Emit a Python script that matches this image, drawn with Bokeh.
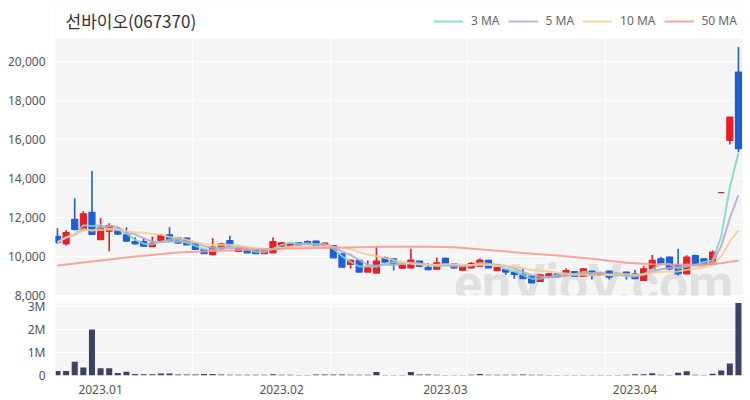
import pandas as pd
from bokeh.plotting import figure
from bokeh.models import (Range1d, FixedTicker, ColumnDataSource, Legend, LegendItem, Label)
from bokeh.embed import file_html
from bokeh.resources import INLINE

title_text = "선바이오(067370)"

# KRX trading days (weekdays minus market holidays)
holidays = ["2022-12-30", "2023-01-23", "2023-01-24", "2023-03-01"]
dates = [d.strftime("%Y-%m-%d") for d in pd.bdate_range("2022-12-23", "2023-04-19")
         if d.strftime("%Y-%m-%d") not in holidays]

open_ = [11030, 10650, 11900, 11390, 12270, 10860, 11300, 11370, 11110, 10770,
         10760, 10510, 10820, 11110, 10960, 10940, 10650, 10360, 10090, 10400,
         10820, 10260, 10310, 10310, 10140, 10190, 10530, 10530, 10700, 10770,
         10790, 10550, 10560, 10140, 9590, 9800, 9200, 9150, 9930, 9880,
         9400, 9420, 9770, 9450, 9350, 9900, 9620, 9300, 9420, 9500,
         9800, 9280, 9330, 9200, 9060, 8990, 8720, 8940, 9110, 9060,
         9230, 8990, 9250, 9030, 9250, 9140, 9200, 9110, 8770, 9370,
         9880, 9970, 9540, 9110, 10050, 9880, 9590, 13280, 15950, 19460]
high = [11450, 11350, 12990, 12320, 14380, 11970, 11710, 11500, 11500, 10990,
        10960, 11030, 11160, 11500, 11010, 10990, 10700, 10400, 10940, 10700,
        11060, 10450, 10350, 10330, 10330, 10980, 10750, 10680, 10720, 10820,
        10820, 10720, 10580, 10140, 9850, 9820, 9800, 10510, 10000, 9900,
        9600, 10400, 9780, 9650, 9950, 9950, 9650, 9560, 9700, 9900,
        9830, 9460, 9350, 9220, 9390, 9000, 9080, 9150, 9130, 9400,
        9250, 9400, 9270, 9160, 9270, 9160, 9220, 9320, 9520, 10080,
        9990, 10000, 10400, 10060, 10100, 9900, 10310, 13280, 17150, 20740]
low = [10650, 10570, 11330, 11300, 11100, 10860, 10270, 11100, 10770, 10620,
       10500, 10510, 10770, 10800, 10680, 10600, 10360, 10140, 10050, 10350,
       10530, 10230, 10190, 10140, 10120, 10190, 10500, 10500, 10520, 10650,
       10560, 10520, 9930, 9450, 9370, 9200, 9200, 9150, 9700, 9280,
       9380, 9400, 9450, 9300, 9330, 9540, 9370, 9280, 9400, 9480,
       9420, 9270, 9060, 8860, 8860, 8650, 8700, 8920, 8990, 9040,
       8990, 8980, 8820, 9000, 8820, 9000, 8820, 8860, 8760, 9350,
       9560, 9300, 9030, 9100, 9590, 9590, 9580, 13280, 15750, 15360]
close = [10720, 11230, 11390, 12190, 11130, 11500, 11590, 11150, 10790, 10650,
         10530, 10680, 11080, 10820, 10690, 10600, 10360, 10140, 10480, 10650,
         10530, 10400, 10190, 10140, 10310, 10770, 10700, 10650, 10600, 10650,
         10560, 10690, 9930, 9450, 9800, 9200, 9450, 9760, 9710, 9630,
         9560, 9820, 9500, 9320, 9680, 9580, 9420, 9520, 9650, 9820,
         9420, 9450, 9200, 9080, 8860, 8650, 9060, 9110, 8990, 9280,
         8990, 9370, 9030, 9140, 8940, 9030, 9030, 8860, 9370, 9800,
         9660, 9370, 9110, 9970, 9590, 9590, 10220, 13280, 17150, 15530]
volume = [200000, 200000, 600000, 350000, 2000000, 310000, 310000, 110000, 160000, 60000,
          50000, 50000, 90000, 90000, 40000, 40000, 40000, 60000, 70000, 40000,
          30000, 30000, 30000, 30000, 30000, 50000, 30000, 30000, 20000, 20000,
          40000, 40000, 40000, 40000, 30000, 30000, 30000, 150000, 20000, 20000,
          20000, 150000, 40000, 40000, 30000, 20000, 20000, 20000, 30000, 60000,
          30000, 30000, 30000, 30000, 40000, 30000, 30000, 20000, 20000, 20000,
          20000, 20000, 20000, 20000, 20000, 20000, 30000, 50000, 50000, 100000,
          30000, 20000, 120000, 180000, 30000, 20000, 80000, 220000, 520000, 3150000]

# 50-day MA (its history lies before the window)
ma50_dates = ["2022-12-23", "2023-01-02", "2023-01-06", "2023-01-13", "2023-01-20",
              "2023-02-02", "2023-02-10", "2023-02-20", "2023-02-27", "2023-03-03",
              "2023-03-10", "2023-03-15", "2023-03-21", "2023-03-27", "2023-03-31",
              "2023-04-05", "2023-04-12", "2023-04-17", "2023-04-19"]
ma50_values = [9540, 9800, 10000, 10200, 10300, 10400, 10450, 10500, 10500, 10470,
               10300, 10180, 10050, 9880, 9680, 9600, 9580, 9650, 9800]

price_ticks = [8000, 10000, 12000, 14000, 16000, 18000, 20000]
vol_ticks = [0, 1000000, 2000000, 3000000]
vol_tick_labels = ["0", "1M", "2M", "3M"]
month_labels = ["2023.01", "2023.02", "2023.03", "2023.04"]
month_dates = ["2023-01-02", "2023-02-02", "2023-03-02", "2023-04-03"]

ma_names = ["3 MA", "5 MA", "10 MA", "50 MA"]
ma_colors = ["#7fd4c9", "#b9a6cb", "#f3cb93", "#f4978d"]

RED = "#ec1c24"
BLUE = "#1c5fd8"
VOL = "#3f4068"
BG = "#f5f5f5"
FONT = "Noto Sans"

# ---- layout geometry (pixels inside the plotting frame, from its top) ----
FRAME_H = 375
PRICE_TOP_PX, PRICE_BOT_PX = 38, 295      # price panel
VOL_TOP_PX = 303                          # volume panel runs to FRAME_H
PRICE_LO, PRICE_HI = 8000, 21180
VOL_HI = 3130000

ppp = (PRICE_HI - PRICE_LO) / (PRICE_BOT_PX - PRICE_TOP_PX)     # price per pixel
y_start = PRICE_LO - (FRAME_H - PRICE_BOT_PX) * ppp
y_end = PRICE_HI + PRICE_TOP_PX * ppp
vpp = VOL_HI / (FRAME_H - VOL_TOP_PX)                           # volume per pixel
vol_end = FRAME_H * vpp


def vol_to_y(v):
    return y_start + (v / vol_end) * (y_end - y_start)


pos = {d: i for i, d in enumerate(dates)}
xs = list(range(len(dates)))
colors = [RED if c >= o else BLUE for o, c in zip(open_, close)]
src = ColumnDataSource(dict(
    x=xs, high=high, low=low,
    top=[max(o, c) for o, c in zip(open_, close)],
    bottom=[min(o, c) for o, c in zip(open_, close)],
    color=colors, vol=volume))

cs = pd.Series(close, dtype=float)
ma3 = cs.rolling(3, min_periods=1).mean().tolist()
ma5 = cs.rolling(5, min_periods=1).mean().tolist()
ma10 = cs.rolling(10, min_periods=1).mean().tolist()
ma50_x = [pos[d] for d in ma50_dates]

x0, x1 = -0.23, 79.47
vgrid = [x0 + k * (x1 - x0) / 5 for k in range(1, 5)]

p = figure(width=750, height=400, x_range=Range1d(x0, x1),
           y_range=Range1d(y_start, y_end), output_backend="svg", toolbar_location=None,
           min_border_left=55, min_border_right=8, min_border_top=0, min_border_bottom=25)
p.extra_y_ranges = {"vol": Range1d(0, vol_end)}
p.background_fill_color = BG
p.border_fill_color = "white"
p.outline_line_color = None

y_ticks = price_ticks + [vol_to_y(v) for v in vol_ticks]
y_labels = {t: f"{t:,}" for t in price_ticks}
y_labels.update({vol_to_y(v): l for v, l in zip(vol_ticks, vol_tick_labels)})
p.yaxis.ticker = FixedTicker(ticks=y_ticks)
p.yaxis.major_label_overrides = y_labels
for ax in p.yaxis + p.xaxis:
    ax.axis_line_color = None
    ax.major_tick_line_color = None
    ax.minor_tick_line_color = None
    ax.major_label_text_font = FONT
    ax.major_label_text_font_size = "12px"
    ax.major_label_text_color = "#555555"
p.yaxis.major_label_standoff = 4
month_x = [pos[d] for d in month_dates]
p.xaxis.ticker = FixedTicker(ticks=month_x)
p.xaxis.major_label_overrides = {x: l for x, l in zip(month_x, month_labels)}
p.xaxis.major_label_standoff = 3

p.ygrid.grid_line_color = "white"
p.xgrid.grid_line_color = "white"
p.xgrid.ticker = FixedTicker(ticks=vgrid)

# watermark, drawn beneath the marks
wm = Label(x=46.0, y=PRICE_LO + 12 * ppp, text="enVioV.com", text_font="Roboto",
           text_font_size="52px", text_font_style="bold", text_color="#d2d2d2",
           text_alpha=0.6, text_baseline="alphabetic", level="underlay")
p.add_layout(wm)

# white strips: above the price panel and between the two panels
p.quad(left=[x0, x0], right=[x1, x1],
       bottom=[PRICE_HI, PRICE_LO - (VOL_TOP_PX - PRICE_BOT_PX) * ppp],
       top=[y_end, PRICE_LO], fill_color="white", line_color=None)

p.segment(x0="x", y0="low", x1="x", y1="high", line_color="color", line_width=1.6, source=src)
p.vbar(x="x", width=0.7, top="top", bottom="bottom", fill_color="color",
       line_color="color", line_width=1.2, source=src)

r3 = p.line(xs, ma3, line_color=ma_colors[0], line_width=2, line_alpha=0.85)
r5 = p.line(xs, ma5, line_color=ma_colors[1], line_width=2, line_alpha=0.85)
r10 = p.line(xs, ma10, line_color=ma_colors[2], line_width=2, line_alpha=0.85)
r50 = p.line(ma50_x, ma50_values, line_color=ma_colors[3], line_width=2, line_alpha=0.85)

p.vbar(x="x", width=0.7, top="vol", bottom=0, fill_color=VOL, line_color=None,
       source=src, y_range_name="vol")

legend = Legend(items=[LegendItem(label=n, renderers=[r]) for n, r in zip(ma_names, [r3, r5, r10, r50])],
                location=(378, FRAME_H - 29), orientation="horizontal", glyph_width=30,
                glyph_height=14, label_height=14, label_standoff=8, spacing=8, padding=0,
                margin=0, border_line_color=None, background_fill_alpha=0,
                label_text_font=FONT, label_text_font_size="12px", label_text_color="#666666")
p.add_layout(legend)

title = Label(x=10, y=FRAME_H - 20, x_units="screen", y_units="screen", text=title_text,
              text_font="Noto Sans CJK KR", text_font_size="17px", text_color="#333333",
              text_baseline="middle")
p.add_layout(title)

open("out.html", "w").write(file_html(p, INLINE))
